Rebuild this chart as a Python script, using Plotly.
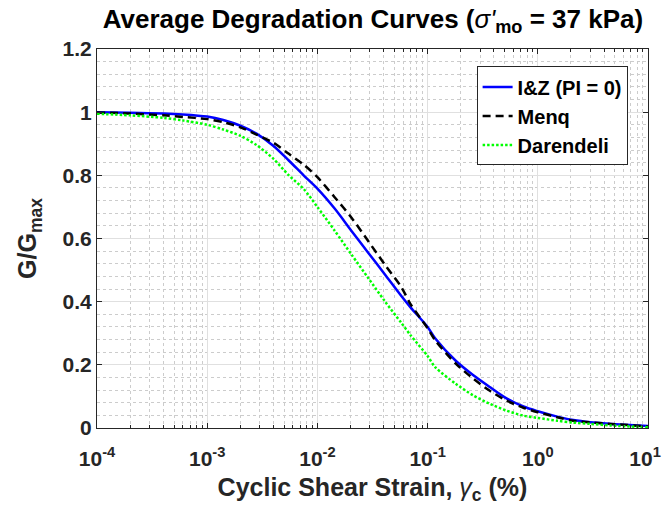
import plotly.graph_objects as go

# Cyclic shear strain (%)
strain = [0.0001, 0.0002, 0.0004, 0.0006, 0.001, 0.0014, 0.002, 0.0028, 0.004,
          0.0055, 0.0075, 0.01, 0.0144, 0.0204, 0.0289, 0.041, 0.058, 0.07, 0.1,
          0.117, 0.18, 0.26, 0.37, 0.52, 0.74, 1.0, 1.5, 2.1, 3.0, 4.6, 10.0]

# G/Gmax
g_iz = [1.000, 0.998, 0.996, 0.993, 0.986, 0.975, 0.957, 0.932, 0.893,
        0.847, 0.800, 0.758, 0.694, 0.624, 0.555, 0.486, 0.417, 0.382, 0.320,
        0.284, 0.213, 0.167, 0.129, 0.094, 0.068, 0.053, 0.036, 0.025, 0.018, 0.013, 0.006]
g_menq = [0.999, 0.996, 0.990, 0.985, 0.978, 0.968, 0.952, 0.929, 0.903,
          0.868, 0.834, 0.794, 0.730, 0.666, 0.592, 0.517, 0.445, 0.392, 0.316,
          0.278, 0.204, 0.156, 0.117, 0.087, 0.064, 0.050, 0.034, 0.023, 0.018, 0.013, 0.005]
g_dar = [0.995, 0.990, 0.982, 0.974, 0.960, 0.945, 0.925, 0.896, 0.852,
         0.800, 0.757, 0.700, 0.624, 0.549, 0.475, 0.401, 0.332, 0.294, 0.228,
         0.193, 0.140, 0.103, 0.076, 0.055, 0.039, 0.032, 0.023, 0.017, 0.013, 0.008, 0.002]

series_names = ["I&Z (PI = 0)", "Menq", "Darendeli"]

x_tick_vals = [1e-4, 1e-3, 1e-2, 1e-1, 1e0, 1e1]
x_tick_text = ["10<sup>-4</sup>", "10<sup>-3</sup>", "10<sup>-2</sup>",
               "10<sup>-1</sup>", "10<sup>0</sup>", "10<sup>1</sup>\u00a0"]
x_minor_vals = [k * 10.0 ** e for e in range(-4, 1) for k in range(2, 10)]
y_tick_vals = [0, 0.2, 0.4, 0.6, 0.8, 1.0, 1.2]
y_tick_text = ["0", "0.2", "0.4", "0.6", "0.8", "1", "1.2"]

FONT = "Liberation Sans, Arial, Helvetica, sans-serif"

fig = go.Figure()
fig.add_trace(go.Scatter(x=strain, y=g_iz, name=series_names[0], mode="lines",
                         line=dict(color="#0000ff", width=2.5, shape="spline", smoothing=0.8)))
fig.add_trace(go.Scatter(x=strain, y=g_menq, name=series_names[1], mode="lines",
                         line=dict(color="#000000", width=2.5, dash="8px,5px", shape="spline", smoothing=0.8)))
fig.add_trace(go.Scatter(x=strain, y=g_dar, name=series_names[2], mode="lines",
                         line=dict(color="#00ff00", width=2.5, dash="2.5px,2px", shape="spline", smoothing=0.8)))

axis_common = dict(
    showline=True, linecolor="#262626", linewidth=1, mirror="ticks",
    ticks="inside", ticklen=5, tickcolor="#262626",
    showgrid=True, gridcolor="#e0e0e0", gridwidth=1, zeroline=False,
    tickfont=dict(family=FONT, size=21, color="#262626", weight="bold"),
    ticklabeloverflow="allow", automargin=False,
)

fig.update_layout(
    width=663, height=515,
    paper_bgcolor="white", plot_bgcolor="white",
    margin=dict(l=97, r=15, t=49, b=87),
    font=dict(family=FONT, color="#262626"),
    title=dict(
        text="<b>Average Degradation Curves (</b><i>σ'</i><b><sub>mo</sub> = 37 kPa)</b>",
        x=0.5625, xanchor="center", xref="container",
        y=0.964, yanchor="middle", yref="container",
        font=dict(family=FONT, size=26, color="#000000"),
    ),
    xaxis=dict(
        type="log", range=[-4, 1],
        tickmode="array", tickvals=x_tick_vals, ticktext=x_tick_text,
        ticklabelstandoff=12,
        title=dict(text="<b>Cyclic Shear Strain, </b><i>γ</i><b><sub>c</sub> (%)</b>",
                   font=dict(family=FONT, size=25, color="#262626"), standoff=9),
        minor=dict(tickmode="array", tickvals=x_minor_vals, ticks="inside", ticklen=3,
                   tickcolor="#262626", showgrid=True, gridcolor="#cccccc", griddash="dot",
                   gridwidth=1),
        **axis_common,
    ),
    yaxis=dict(
        range=[0, 1.2],
        tickmode="array", tickvals=y_tick_vals, ticktext=y_tick_text,
        title=dict(text="<b>G/G<sub>max</sub></b>",
                   font=dict(family=FONT, size=25, color="#262626"), standoff=18),
        minor=dict(dtick=0.04, tick0=0, ticks="", showgrid=True, gridcolor="#cccccc",
                   griddash="dot", gridwidth=1),
        **axis_common,
    ),
    legend=dict(
        x=0.963, y=0.954, xanchor="right", yanchor="top",
        bgcolor="white", bordercolor="#262626", borderwidth=1,
        font=dict(family=FONT, size=20, color="#000000", weight="bold"),
        tracegroupgap=0,
    ),
    showlegend=True,
)

fig.write_html("out.html")
